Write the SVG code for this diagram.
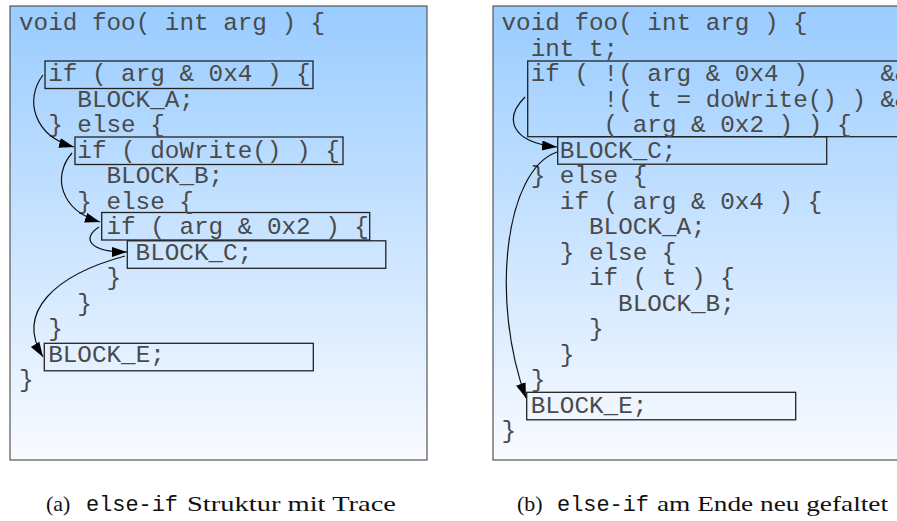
<svg xmlns="http://www.w3.org/2000/svg" width="897" height="521" viewBox="0 0 897 521">
<style>
.panel{stroke:#555;stroke-width:1.2}
.box{fill:none;stroke:#222;stroke-width:1.3}
.code{font-family:"Liberation Mono","DejaVu Sans Mono",monospace;font-size:24.3px;fill:#4a4a4a}
.edge{fill:none;stroke:#111;stroke-width:1.2}
.cap{font-family:"Liberation Serif","DejaVu Serif",serif;font-size:22px;fill:#111}
.tt{font-family:"Liberation Mono","DejaVu Sans Mono",monospace;font-size:21.9px;fill:#111}
</style>
<defs>
<linearGradient id="bg" x1="0" y1="0" x2="0" y2="1">
<stop offset="0" stop-color="#99ccff"/>
<stop offset="1" stop-color="#f9fbff"/>
</linearGradient>
<marker id="ah" markerUnits="userSpaceOnUse" markerWidth="16" markerHeight="12" refX="15" refY="5" orient="auto">
<path d="M0,0 L15,5 L0,10 z" fill="#000"/>
</marker>
</defs>
<rect width="897" height="521" fill="#fff"/>

<g id="panel-a">
<rect class="panel" x="10" y="6" width="417" height="454" fill="url(#bg)"/>
<g id="a-box-if4"><rect class="box" x="45" y="61" width="268" height="27.5"/></g>
<g id="a-box-dowrite"><rect class="box" x="75" y="137" width="268" height="27.5"/></g>
<g id="a-box-if2"><rect class="box" x="101.7" y="212.5" width="268" height="27.5"/></g>
<g id="a-box-c"><rect class="box" x="127.3" y="240.8" width="258.5" height="27.5"/></g>
<g id="a-box-e"><rect class="box" x="44.3" y="343.3" width="269" height="27.5"/></g>
<g class="code" id="a-code">
<text x="19" y="30">void foo( int arg ) {</text>
<text x="48.2" y="81">if ( arg &amp; 0x4 ) {</text>
<text x="77.3" y="106.5">BLOCK_A;</text>
<text x="48.2" y="132">} else {</text>
<text x="77.3" y="157.5">if ( doWrite() ) {</text>
<text x="106.5" y="183">BLOCK_B;</text>
<text x="77.3" y="208.5">} else {</text>
<text x="106.5" y="234">if ( arg &amp; 0x2 ) {</text>
<text x="135.6" y="259.5">BLOCK_C;</text>
<text x="106.5" y="285">}</text>
<text x="77.3" y="310.5">}</text>
<text x="48.2" y="336">}</text>
<text x="48.2" y="361.5">BLOCK_E;</text>
<text x="19" y="387">}</text>
</g>
</g>

<g id="panel-b">
<rect class="panel" x="493" y="6" width="420" height="454" fill="url(#bg)"/>
<g id="b-box-if"><rect class="box" x="527.7" y="61" width="400" height="75.7"/></g>
<g id="b-box-c"><rect class="box" x="557.7" y="136.7" width="269" height="27.5"/></g>
<g id="b-box-e"><rect class="box" x="526.7" y="392.3" width="269" height="27.5"/></g>
<g class="code" id="b-code">
<text x="501.5" y="30">void foo( int arg ) {</text>
<text x="530.7" y="55.5">int t;</text>
<text x="530.7" y="81" xml:space="preserve">if ( !( arg &amp; 0x4 )     &amp;&amp;</text>
<text x="603.6" y="106.5">!( t = doWrite() ) &amp;&amp;</text>
<text x="603.6" y="132">( arg &amp; 0x2 ) ) {</text>
<text x="559.8" y="157.5">BLOCK_C;</text>
<text x="530.7" y="183">} else {</text>
<text x="559.8" y="208.5">if ( arg &amp; 0x4 ) {</text>
<text x="589" y="234">BLOCK_A;</text>
<text x="559.8" y="259.5">} else {</text>
<text x="589" y="285">if ( t ) {</text>
<text x="618.1" y="310.5">BLOCK_B;</text>
<text x="589" y="336">}</text>
<text x="559.8" y="361.5">}</text>
<text x="530.7" y="387">}</text>
<text x="530.7" y="412.5">BLOCK_E;</text>
<text x="501.5" y="438">}</text>
</g>
</g>

<g id="connectors">
<path class="edge" marker-end="url(#ah)" d="M43,75 C24,100 34,136 74,147"/>
<path class="edge" marker-end="url(#ah)" d="M72,153 C52,176 60,210 100,222"/>
<path class="edge" marker-end="url(#ah)" d="M99,227 C82,238 88,252 127,252"/>
<path class="edge" marker-end="url(#ah)" d="M125,256 C55,275 15,312 43,357"/>
<path class="edge" marker-end="url(#ah)" d="M525,97 C504,118 510,142 557,147"/>
<path class="edge" marker-end="url(#ah)" d="M557,152 C505,170 490,300 526,398"/>
</g>

<g id="captions">
<text class="cap" x="46" y="511">(a)</text>
<text class="tt" x="86" y="511" textLength="92" lengthAdjust="spacingAndGlyphs">else-if</text>
<text class="cap" x="187" y="511" textLength="209" lengthAdjust="spacingAndGlyphs">Struktur mit Trace</text>
<text class="cap" x="517" y="511">(b)</text>
<text class="tt" x="557" y="511" textLength="92" lengthAdjust="spacingAndGlyphs">else-if</text>
<text class="cap" x="657" y="511" textLength="231" lengthAdjust="spacingAndGlyphs">am Ende neu gefaltet</text>
</g>
</svg>
